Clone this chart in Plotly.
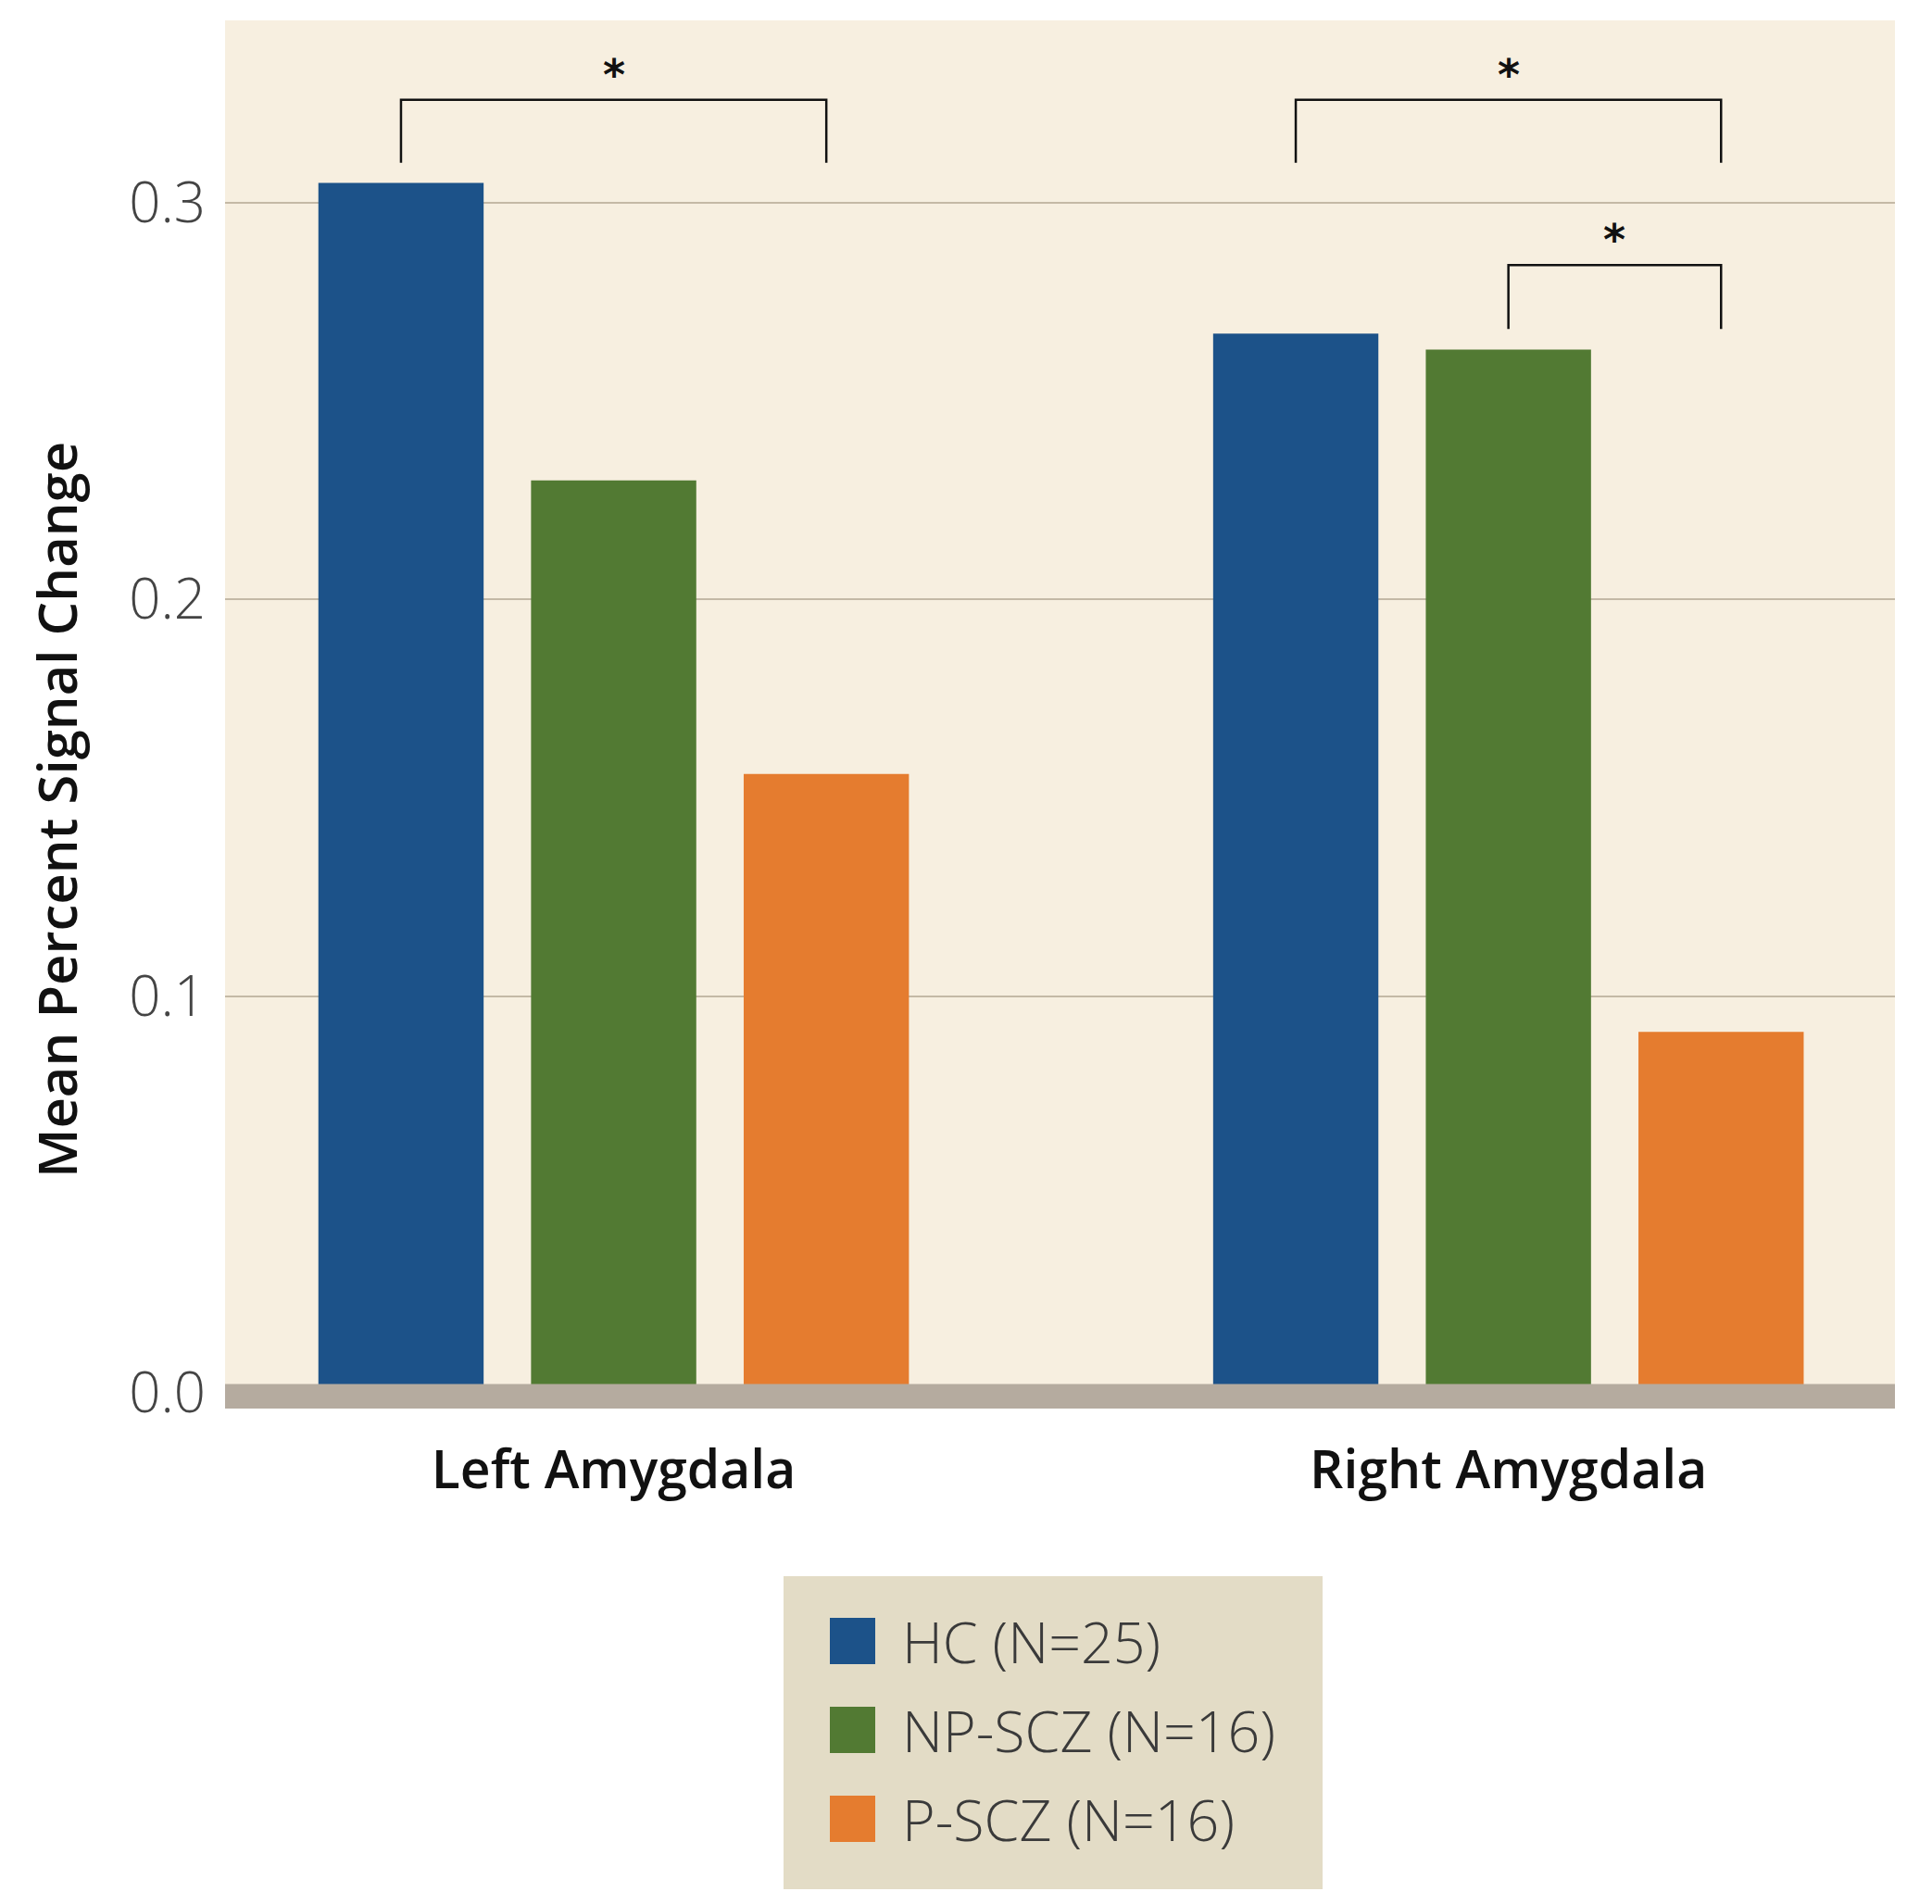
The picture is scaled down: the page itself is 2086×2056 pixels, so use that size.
import plotly.graph_objects as go

# ---- data ----
categories = ["Left Amygdala", "Right Amygdala"]
groups = ["HC (N=25)", "NP-SCZ (N=16)", "P-SCZ (N=16)"]
hc_values = [0.305, 0.267]
np_scz_values = [0.230, 0.263]
p_scz_values = [0.156, 0.091]
y_tickvals = [0.0, 0.1, 0.2, 0.3]
y_ticktext = ["0.0", "0.1", "0.2", "0.3"]
y_title = "Mean Percent Signal Change"
# significance brackets: (category index, group i, group j, bracket top, leg bottom)
sig_pairs = [(0, 0, 2, 0.3260, 0.3101), (1, 0, 2, 0.3260, 0.3101), (1, 1, 2, 0.2843, 0.2682)]
sig_label = "*"

colors = ["#1c5289", "#527a33", "#e57c2f"]
series = [hc_values, np_scz_values, p_scz_values]

W, H = 2086, 2056
L, R, T, B = 243, 40, 22, 535
plot_w = W - L - R
plot_h = H - T - B

bargap = 0.287
bargroupgap = 0.223
slot = (1 - bargap) / len(groups)

fig = go.Figure()
for name, vals, col in zip(groups, series, colors):
    fig.add_trace(go.Bar(x=categories, y=vals, name=name, marker=dict(color=col, line=dict(width=0)),
                         showlegend=False))

def px_x(px):
    return (px - L) / plot_w

def px_y(py):
    return (H - B - py) / plot_h

shapes = []
annotations = []

# gray baseline band
shapes.append(dict(type="rect", xref="paper", yref="y", x0=0, x1=1, y0=-0.0040, y1=0.0022,
                   fillcolor="#b5ab9f", line=dict(width=0), layer="above"))

# significance brackets
def gx(ci, gi):
    return ci + (gi - (len(groups) - 1) / 2) * slot

for ci, gi, gj, ytop, ybot in sig_pairs:
    xa, xb = gx(ci, gi), gx(ci, gj)
    shapes.append(dict(type="path", xref="x", yref="y",
                       path=f"M {xa},{ybot} L {xa},{ytop} L {xb},{ytop} L {xb},{ybot}",
                       line=dict(color="#111111", width=2.5)))
    annotations.append(dict(x=(xa + xb) / 2, y=ytop, xref="x", yref="y", text=sig_label,
                            showarrow=False, yanchor="bottom", yshift=-2,
                            font=dict(size=46, color="#111111", family="DejaVu Sans", weight="bold")))

# y-axis title (placed slightly below the plot centre, as in the original)
annotations.append(dict(x=px_x(60), y=px_y(875), xref="paper", yref="paper", text=y_title,
                        textangle=-90, showarrow=False, xanchor="center", yanchor="middle",
                        font=dict(size=58, color="#111111", family="Open Sans", weight=600)))

# custom legend
shapes.append(dict(type="rect", xref="paper", yref="paper", x0=px_x(846), x1=px_x(1428),
                   y0=px_y(2040), y1=px_y(1702), fillcolor="#e3dcc6", line=dict(width=0)))
row_y = [1772, 1868, 1964]
for name, col, ry in zip(groups, colors, row_y):
    shapes.append(dict(type="rect", xref="paper", yref="paper", x0=px_x(896), x1=px_x(945),
                       y0=px_y(ry + 25), y1=px_y(ry - 25), fillcolor=col, line=dict(width=0)))
    annotations.append(dict(x=px_x(972), y=px_y(ry), xref="paper", yref="paper", text=name,
                            showarrow=False, xanchor="left", yanchor="middle",
                            font=dict(size=61, color="#3a3a3a", family="Open Sans", weight=300)))

fig.update_layout(
    width=W, height=H,
    margin=dict(l=L, r=R, t=T, b=B),
    paper_bgcolor="white",
    plot_bgcolor="#f7efe0",
    barmode="group",
    bargap=bargap,
    bargroupgap=bargroupgap,
    shapes=shapes,
    annotations=annotations,
    font=dict(family="Open Sans", color="#222222"),
)
fig.update_xaxes(range=[-0.4343, 1.432], showgrid=False, zeroline=False, showline=False,
                 ticks="", ticklabelstandoff=28,
                 tickfont=dict(size=57, color="#111111", family="Open Sans", weight=600))
fig.update_yaxes(range=[-0.0040, 0.3460], tickvals=y_tickvals, ticktext=y_ticktext,
                 showgrid=True, gridcolor="#c4b9a6", gridwidth=2, zeroline=False, showline=False,
                 ticks="", ticklabelstandoff=20,
                 tickfont=dict(size=60, color="#444444", family="Open Sans", weight=300))

fig.write_html("out.html", config={"displayModeBar": False},
               post_script="document.body.style.margin='0';")
